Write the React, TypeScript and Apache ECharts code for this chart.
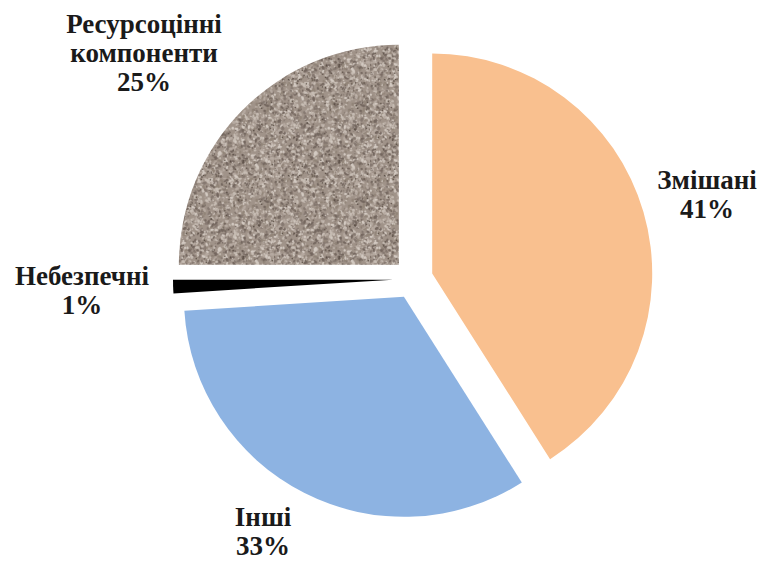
import React, { useEffect, useRef } from "react";
import * as echarts from "echarts";

const categories = ["Змішані", "Інші", "Небезпечні", "Ресурсоцінні\nкомпоненти"];
const values = [41, 33, 1, 25];
const colors = ["#F9C08F", "#8DB3E2", "#000000", "granite"];
const labelCenters: [number, number][] = [
  [707, 194],
  [263, 531],
  [82, 290],
  [144, 53],
];

function makeGranite(): HTMLCanvasElement {
  const c = document.createElement("canvas");
  c.width = 96;
  c.height = 96;
  const ctx = c.getContext("2d")!;
  ctx.fillStyle = "#a09389";
  ctx.fillRect(0, 0, 96, 96);
  let s = 12345;
  const rnd = () => {
    s = (s * 1103515245 + 12345) & 0x7fffffff;
    return s / 0x7fffffff;
  };
  const tones = ["#c7bdb4", "#b6aaa1", "#857870", "#74675f", "#d3cac2", "#928579"];
  for (let i = 0; i < 1800; i++) {
    const x = rnd() * 96;
    const y = rnd() * 96;
    const r = 0.5 + rnd() * 0.9;
    ctx.fillStyle = tones[Math.floor(rnd() * tones.length)];
    ctx.beginPath();
    ctx.ellipse(x, y, r * (1 + rnd()), r, rnd() * Math.PI, 0, Math.PI * 2);
    ctx.fill();
  }
  for (let i = 0; i < 90; i++) {
    ctx.fillStyle = "#54483f";
    ctx.fillRect(rnd() * 96, rnd() * 96, 1.3, 1.3);
  }
  return c;
}

export default function App() {
  const ref = useRef<HTMLDivElement>(null);
  useEffect(() => {
    document.body.style.margin = "0";
    const chart = echarts.init(ref.current!, null, { renderer: "svg" });
    const granite = makeGranite();
    chart.setOption({
      animation: false,
      backgroundColor: "#ffffff",
      graphic: categories.map((name, i) => ({
        type: "text",
        x: labelCenters[i][0],
        y: labelCenters[i][1],
        silent: true,
        style: {
          text: `${name}\n${values[i]}%`,
          fontFamily: "'Liberation Serif', 'DejaVu Serif', serif",
          fontWeight: "bold",
          fontSize: 27,
          lineHeight: 29,
          fill: "#1a1a1a",
          align: "center",
          verticalAlign: "middle",
        },
      })),
      series: [
        {
          type: "pie",
          center: [413, 279],
          radius: [0, 220],
          startAngle: 90,
          clockwise: true,
          selectedMode: "multiple",
          selectedOffset: 20,
          emphasis: { disabled: true },
          label: { show: false },
          labelLine: { show: false },
          data: categories.map((name, i) => ({
            name,
            value: values[i],
            selected: true,
            itemStyle: {
              color:
                colors[i] === "granite"
                  ? { image: granite, repeat: "repeat", imageWidth: 96, imageHeight: 96 }
                  : colors[i],
            },
          })),
        },
      ],
    });
    return () => chart.dispose();
  }, []);
  return (
    <div
      ref={ref}
      style={{ position: "absolute", left: 0, top: 0, width: 760, height: 561 }}
    />
  );
}
